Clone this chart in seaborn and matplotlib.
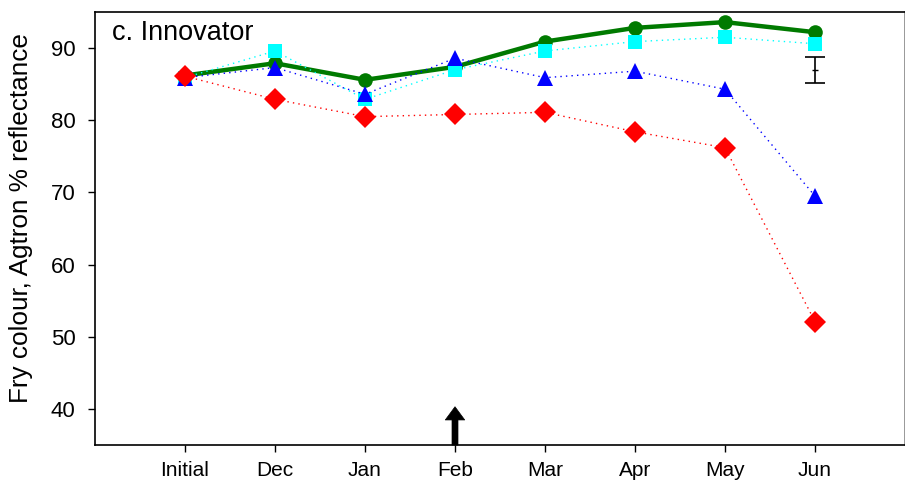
import matplotlib
matplotlib.use("Agg")
import matplotlib.pyplot as plt
import seaborn as sns
import numpy as np
import pandas as pd

# Sampling dates and fry colour (Agtron % reflectance) per storage treatment
months = ["Initial", "Dec", "Jan", "Feb", "Mar", "Apr", "May", "Jun"]
green_circle = [86.2, 87.9, 85.6, 87.4, 90.9, 92.8, 93.6, 92.2]
cyan_square = [85.9, 89.6, 82.9, 87.0, 89.6, 90.9, 91.5, 90.6]
blue_triangle = [85.9, 87.3, 83.6, 88.6, 85.9, 86.8, 84.3, 69.5]
red_diamond = [86.1, 82.9, 80.5, 80.8, 81.1, 78.4, 76.2, 52.1]

# Least significant difference bar shown at the last date
lsd_center = 87.0
lsd_half = 1.8
y_ticks = [40, 50, 60, 70, 80, 90]

sns.set_theme(style="white")
plt.rcParams["font.family"] = ["Liberation Sans", "DejaVu Sans"]
plt.rcParams["text.color"] = "black"
plt.rcParams["xtick.color"] = "black"
plt.rcParams["ytick.color"] = "black"
plt.rcParams["axes.labelcolor"] = "black"

fig = plt.figure(figsize=(9.05, 4.87), dpi=100)
ax = fig.add_axes([95 / 905, 1 - 445 / 487, 810 / 905, 433 / 487])

x = np.arange(len(months))
df = pd.DataFrame({"x": x, "green": green_circle, "cyan": cyan_square,
                   "blue": blue_triangle, "red": red_diamond})

dots = (0, (1, 3))
sns.lineplot(data=df, x="x", y="green", ax=ax, color="#007a00", lw=3.2,
             marker="o", markersize=10.5, markeredgewidth=0, zorder=3)
sns.lineplot(data=df, x="x", y="cyan", ax=ax, color="#00ffff", lw=1,
             linestyle=dots, marker="s", markersize=10,
             markeredgewidth=0, zorder=4)
sns.lineplot(data=df, x="x", y="blue", ax=ax, color="#0000ff", lw=1,
             linestyle=dots, marker="^", markersize=12,
             markeredgewidth=0, zorder=5)
sns.lineplot(data=df, x="x", y="red", ax=ax, color="#ff0000", lw=1,
             linestyle=dots, marker="D", markersize=11,
             markeredgewidth=0, zorder=6)

ax.errorbar([x[-1]], [lsd_center], yerr=[lsd_half], fmt="_", color="black",
            ecolor="black", elinewidth=1.2, capsize=7, capthick=1.2,
            markersize=5, zorder=7)

# Arrow marking the February sampling point
ax.annotate("", xy=(3, 40.3), xytext=(3, 35.0),
            arrowprops=dict(facecolor="black", edgecolor="black", lw=0.5,
                            width=4.3, headwidth=14, headlength=9.5,
                            shrink=0),
            annotation_clip=False, zorder=8)

ax.set_xlim(-1, 8)
ax.set_ylim(35, 95)
ax.set_xticks(x)
ax.set_xticklabels(months, fontsize=15)
ax.set_yticks(y_ticks)
ax.set_yticklabels([str(t) for t in y_ticks], fontsize=16)
ax.tick_params(axis="both", which="major", direction="out", length=5,
               width=1, color="black", left=True, bottom=True)
ax.tick_params(axis="x", pad=6.5)
ax.tick_params(axis="y", pad=9)
ax.set_xlabel("")
ax.set_ylabel("Fry colour, Agtron % reflectance", fontsize=18.8,
              va="center")
ax.yaxis.set_label_coords(-74 / 810, (445 - 218) / 433)

for side in ["left", "bottom", "top"]:
    ax.spines[side].set_color("black")
    ax.spines[side].set_linewidth(1.2)
ax.spines["right"].set_color("#888888")
ax.spines["right"].set_linewidth(1.2)

ax.text(17 / 810, (445 - 40) / 433, "c. Innovator", transform=ax.transAxes,
        fontsize=19.5, ha="left", va="baseline")

fig.savefig("out.png", dpi=100)
